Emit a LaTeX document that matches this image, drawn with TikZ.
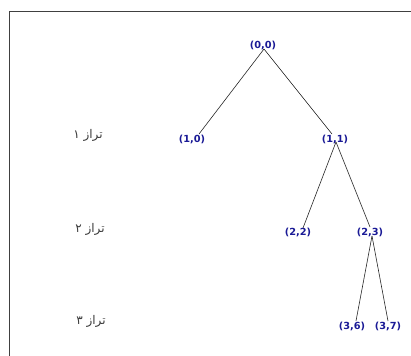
\documentclass[tikz,border=0pt]{standalone}
\usepackage{fontspec}
\TeXXeTstate=1
\newfontfamily\treefont{DejaVu Sans}
\newfontfamily\arabicfont[Script=Arabic]{DejaVu Sans}
\definecolor{nodeblue}{HTML}{1A1A96}
\definecolor{lblgray}{HTML}{3A3A3A}
\begin{document}
\begin{tikzpicture}[x=1bp,y=-1bp,
  tn/.style={font=\treefont\bfseries\fontsize{9.8}{10}\selectfont, text=nodeblue, inner sep=0.5pt},
  lvl/.style={font=\arabicfont\fontsize{12}{14}\selectfont, text=lblgray, inner sep=0pt},
  edge/.style={draw=black!85, line width=0.6pt}]
\useasboundingbox (0,0) rectangle (411,356);
\fill[white] (0,0) rectangle (411,356);
\draw[line width=0.8pt, black!75] (9.5,356) -- (9.5,11) -- (411,11);
\node[tn] (n00) at (263,45) {(0,0)};
\node[tn] (n10) at (192,139) {(1,0)};
\node[tn] (n11) at (335,139) {(1,1)};
\node[tn] (n22) at (298,232) {(2,2)};
\node[tn] (n23) at (370,232) {(2,3)};
\node[tn] (n36) at (352,326) {(3,6)};
\node[tn] (n37) at (388,326) {(3,7)};
\coordinate (a00) at (264,49);
\coordinate (b10) at (199,134);
\coordinate (b11) at (332,134);
\coordinate (a11) at (336,142);
\coordinate (b22) at (303,228);
\coordinate (b23) at (370,227);
\coordinate (a23) at (372,236);
\coordinate (b36) at (356,321);
\coordinate (b37) at (388,321);
\draw[edge] (a00) -- (b10);
\draw[edge] (a00) -- (b11);
\draw[edge] (a11) -- (b22);
\draw[edge] (a11) -- (b23);
\draw[edge] (a23) -- (b36);
\draw[edge] (a23) -- (b37);
\node[lvl] (l1) at (88,135) {\beginR تراز ۱\endR};
\node[lvl] (l2) at (90,229) {\beginR تراز ۲\endR};
\node[lvl] (l3) at (91,321) {\beginR تراز ۳\endR};
\end{tikzpicture}
\end{document}
